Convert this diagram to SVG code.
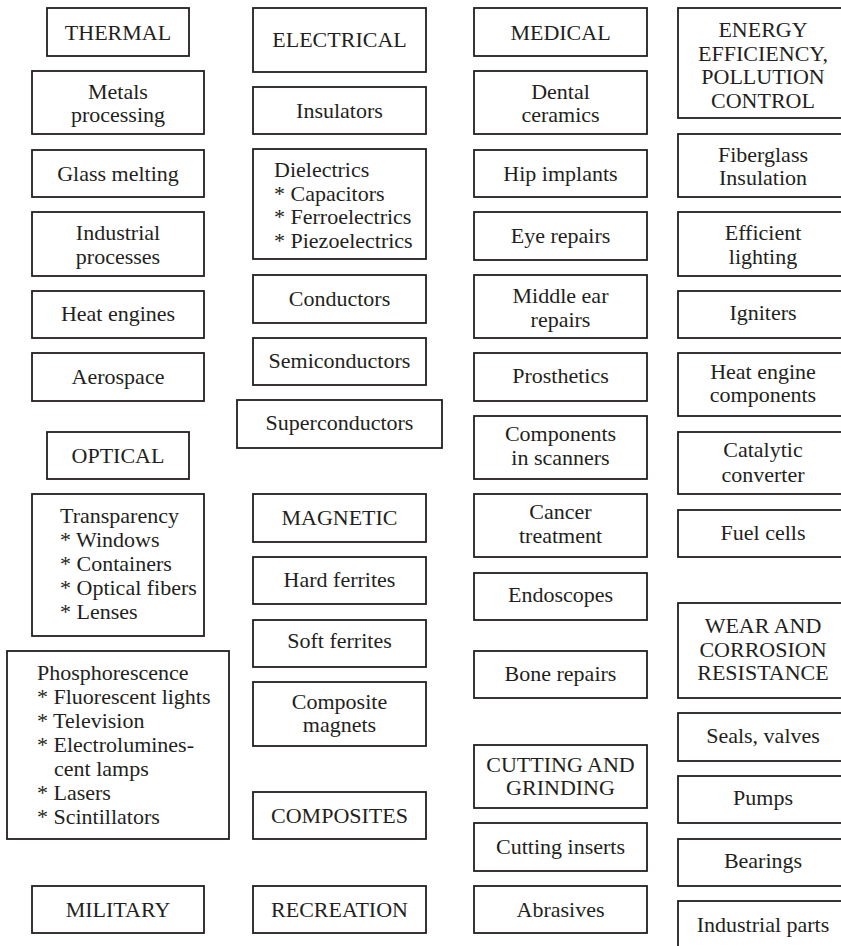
<svg xmlns="http://www.w3.org/2000/svg" width="841" height="946" viewBox="0 0 841 946">
<style>
rect{fill:#fff;stroke:#231f20;stroke-width:1.8}
text{font-family:"Liberation Serif","Times New Roman",serif;font-size:22px;fill:#231f20}
.c1{text-anchor:middle}
</style>
<rect x="0" y="0" width="841" height="946" style="stroke:none"/>
<g id="connectors"/>
<!-- Column 1 -->
<g id="thermal"><rect x="47" y="8" width="142" height="48"/><text class="c1" x="118" y="39.5">THERMAL</text></g>
<g id="metals"><rect x="32" y="71" width="172" height="63"/><text class="c1" x="118" y="98.5">Metals</text><text class="c1" x="118" y="122">processing</text></g>
<g id="glass"><rect x="32" y="150" width="172" height="47"/><text class="c1" x="118" y="180.5">Glass melting</text></g>
<g id="industrial"><rect x="32" y="212" width="172" height="64"/><text class="c1" x="118" y="240">Industrial</text><text class="c1" x="118" y="264">processes</text></g>
<g id="heatengines"><rect x="32" y="291" width="172" height="47"/><text class="c1" x="118" y="321">Heat engines</text></g>
<g id="aerospace"><rect x="32" y="353" width="172" height="48"/><text class="c1" x="118" y="383.5">Aerospace</text></g>
<g id="optical"><rect x="47" y="432" width="142" height="47"/><text class="c1" x="118" y="462.5">OPTICAL</text></g>
<g id="transparency"><rect x="32" y="494" width="172" height="142"/>
<text x="60" y="523">Transparency</text><text x="60" y="547">* Windows</text><text x="60" y="571">* Containers</text><text x="60" y="595">* Optical fibers</text><text x="60" y="619">* Lenses</text></g>
<g id="phosphorescence"><rect x="7" y="651" width="222" height="188"/>
<text x="37" y="680">Phosphorescence</text><text x="37" y="704">* Fluorescent lights</text><text x="37" y="728">* Television</text><text x="37" y="752">* Electrolumines-</text><text x="54" y="776">cent lamps</text><text x="37" y="800">* Lasers</text><text x="37" y="824">* Scintillators</text></g>
<g id="military"><rect x="32" y="886" width="172" height="47"/><text class="c1" x="118" y="917">MILITARY</text></g>
<!-- Column 2 -->
<g id="electrical"><rect x="253" y="8" width="173" height="64"/><text class="c1" x="339.5" y="47">ELECTRICAL</text></g>
<g id="insulators"><rect x="253" y="87" width="173" height="47"/><text class="c1" x="339.5" y="117.5">Insulators</text></g>
<g id="dielectrics"><rect x="253" y="149" width="173" height="110"/>
<text x="274" y="177">Dielectrics</text><text x="274" y="200.5">* Capacitors</text><text x="274" y="224">* Ferroelectrics</text><text x="274" y="247.5">* Piezoelectrics</text></g>
<g id="conductors"><rect x="253" y="275" width="173" height="48"/><text class="c1" x="339.5" y="305.5">Conductors</text></g>
<g id="semiconductors"><rect x="253" y="338" width="173" height="47"/><text class="c1" x="339.5" y="367.5">Semiconductors</text></g>
<g id="superconductors"><rect x="237" y="400" width="205" height="48"/><text class="c1" x="339.5" y="430">Superconductors</text></g>
<g id="magnetic"><rect x="253" y="494" width="173" height="48"/><text class="c1" x="339.5" y="525">MAGNETIC</text></g>
<g id="hardferrites"><rect x="253" y="557" width="173" height="47"/><text class="c1" x="339.5" y="587">Hard ferrites</text></g>
<g id="softferrites"><rect x="253" y="620" width="173" height="47"/><text class="c1" x="339.5" y="647.5">Soft ferrites</text></g>
<g id="compositemagnets"><rect x="253" y="682" width="173" height="64"/><text class="c1" x="339.5" y="709">Composite</text><text class="c1" x="339.5" y="732">magnets</text></g>
<g id="composites"><rect x="253" y="792" width="173" height="47"/><text class="c1" x="339.5" y="823">COMPOSITES</text></g>
<g id="recreation"><rect x="253" y="886" width="173" height="47"/><text class="c1" x="339.5" y="917">RECREATION</text></g>
<!-- Column 3 -->
<g id="medical"><rect x="474" y="8" width="173" height="48"/><text class="c1" x="560.5" y="39.5">MEDICAL</text></g>
<g id="dental"><rect x="474" y="71" width="173" height="63"/><text class="c1" x="560.5" y="98.5">Dental</text><text class="c1" x="560.5" y="122">ceramics</text></g>
<g id="hip"><rect x="474" y="150" width="173" height="47"/><text class="c1" x="560.5" y="180.5">Hip implants</text></g>
<g id="eye"><rect x="474" y="212" width="173" height="48"/><text class="c1" x="560.5" y="242.5">Eye repairs</text></g>
<g id="middleear"><rect x="474" y="275" width="173" height="63"/><text class="c1" x="560.5" y="303">Middle ear</text><text class="c1" x="560.5" y="326.5">repairs</text></g>
<g id="prosthetics"><rect x="474" y="353" width="173" height="48"/><text class="c1" x="560.5" y="383">Prosthetics</text></g>
<g id="scanners"><rect x="474" y="416" width="173" height="63"/><text class="c1" x="560.5" y="441">Components</text><text class="c1" x="560.5" y="465">in scanners</text></g>
<g id="cancer"><rect x="474" y="494" width="173" height="63"/><text class="c1" x="560.5" y="519">Cancer</text><text class="c1" x="560.5" y="543">treatment</text></g>
<g id="endoscopes"><rect x="474" y="573" width="173" height="47"/><text class="c1" x="560.5" y="602">Endoscopes</text></g>
<g id="bone"><rect x="474" y="651" width="173" height="47"/><text class="c1" x="560.5" y="681">Bone repairs</text></g>
<g id="cutting"><rect x="474" y="745" width="173" height="63"/><text class="c1" x="560.5" y="772">CUTTING AND</text><text class="c1" x="560.5" y="795">GRINDING</text></g>
<g id="inserts"><rect x="474" y="823" width="173" height="48"/><text class="c1" x="560.5" y="853.5">Cutting inserts</text></g>
<g id="abrasives"><rect x="474" y="886" width="173" height="47"/><text class="c1" x="560.5" y="916.5">Abrasives</text></g>
<!-- Column 4 -->
<g id="energy"><rect x="678" y="8" width="172" height="110"/><text class="c1" x="763" y="37">ENERGY</text><text class="c1" x="763" y="60.5">EFFICIENCY,</text><text class="c1" x="763" y="84">POLLUTION</text><text class="c1" x="763" y="107.5">CONTROL</text></g>
<g id="fiberglass"><rect x="678" y="134" width="172" height="63"/><text class="c1" x="763" y="161.5">Fiberglass</text><text class="c1" x="763" y="185">Insulation</text></g>
<g id="lighting"><rect x="678" y="212" width="172" height="64"/><text class="c1" x="763" y="240">Efficient</text><text class="c1" x="763" y="263.5">lighting</text></g>
<g id="igniters"><rect x="678" y="291" width="172" height="47"/><text class="c1" x="763" y="320">Igniters</text></g>
<g id="heatcomponents"><rect x="678" y="353" width="172" height="63"/><text class="c1" x="763" y="378.5">Heat engine</text><text class="c1" x="763" y="402">components</text></g>
<g id="catalytic"><rect x="678" y="432" width="172" height="62"/><text class="c1" x="763" y="457">Catalytic</text><text class="c1" x="763" y="481.5">converter</text></g>
<g id="fuelcells"><rect x="678" y="510" width="172" height="47"/><text class="c1" x="763" y="540">Fuel cells</text></g>
<g id="wear"><rect x="678" y="603" width="172" height="95"/><text class="c1" x="763" y="633">WEAR AND</text><text class="c1" x="763" y="656.5">CORROSION</text><text class="c1" x="763" y="680">RESISTANCE</text></g>
<g id="seals"><rect x="678" y="713" width="172" height="48"/><text class="c1" x="763" y="742.5">Seals, valves</text></g>
<g id="pumps"><rect x="678" y="776" width="172" height="47"/><text class="c1" x="763" y="805">Pumps</text></g>
<g id="bearings"><rect x="678" y="839" width="172" height="47"/><text class="c1" x="763" y="868">Bearings</text></g>
<g id="industrialparts"><rect x="678" y="901" width="172" height="60"/><text class="c1" x="763" y="931.5">Industrial parts</text></g>
</svg>
